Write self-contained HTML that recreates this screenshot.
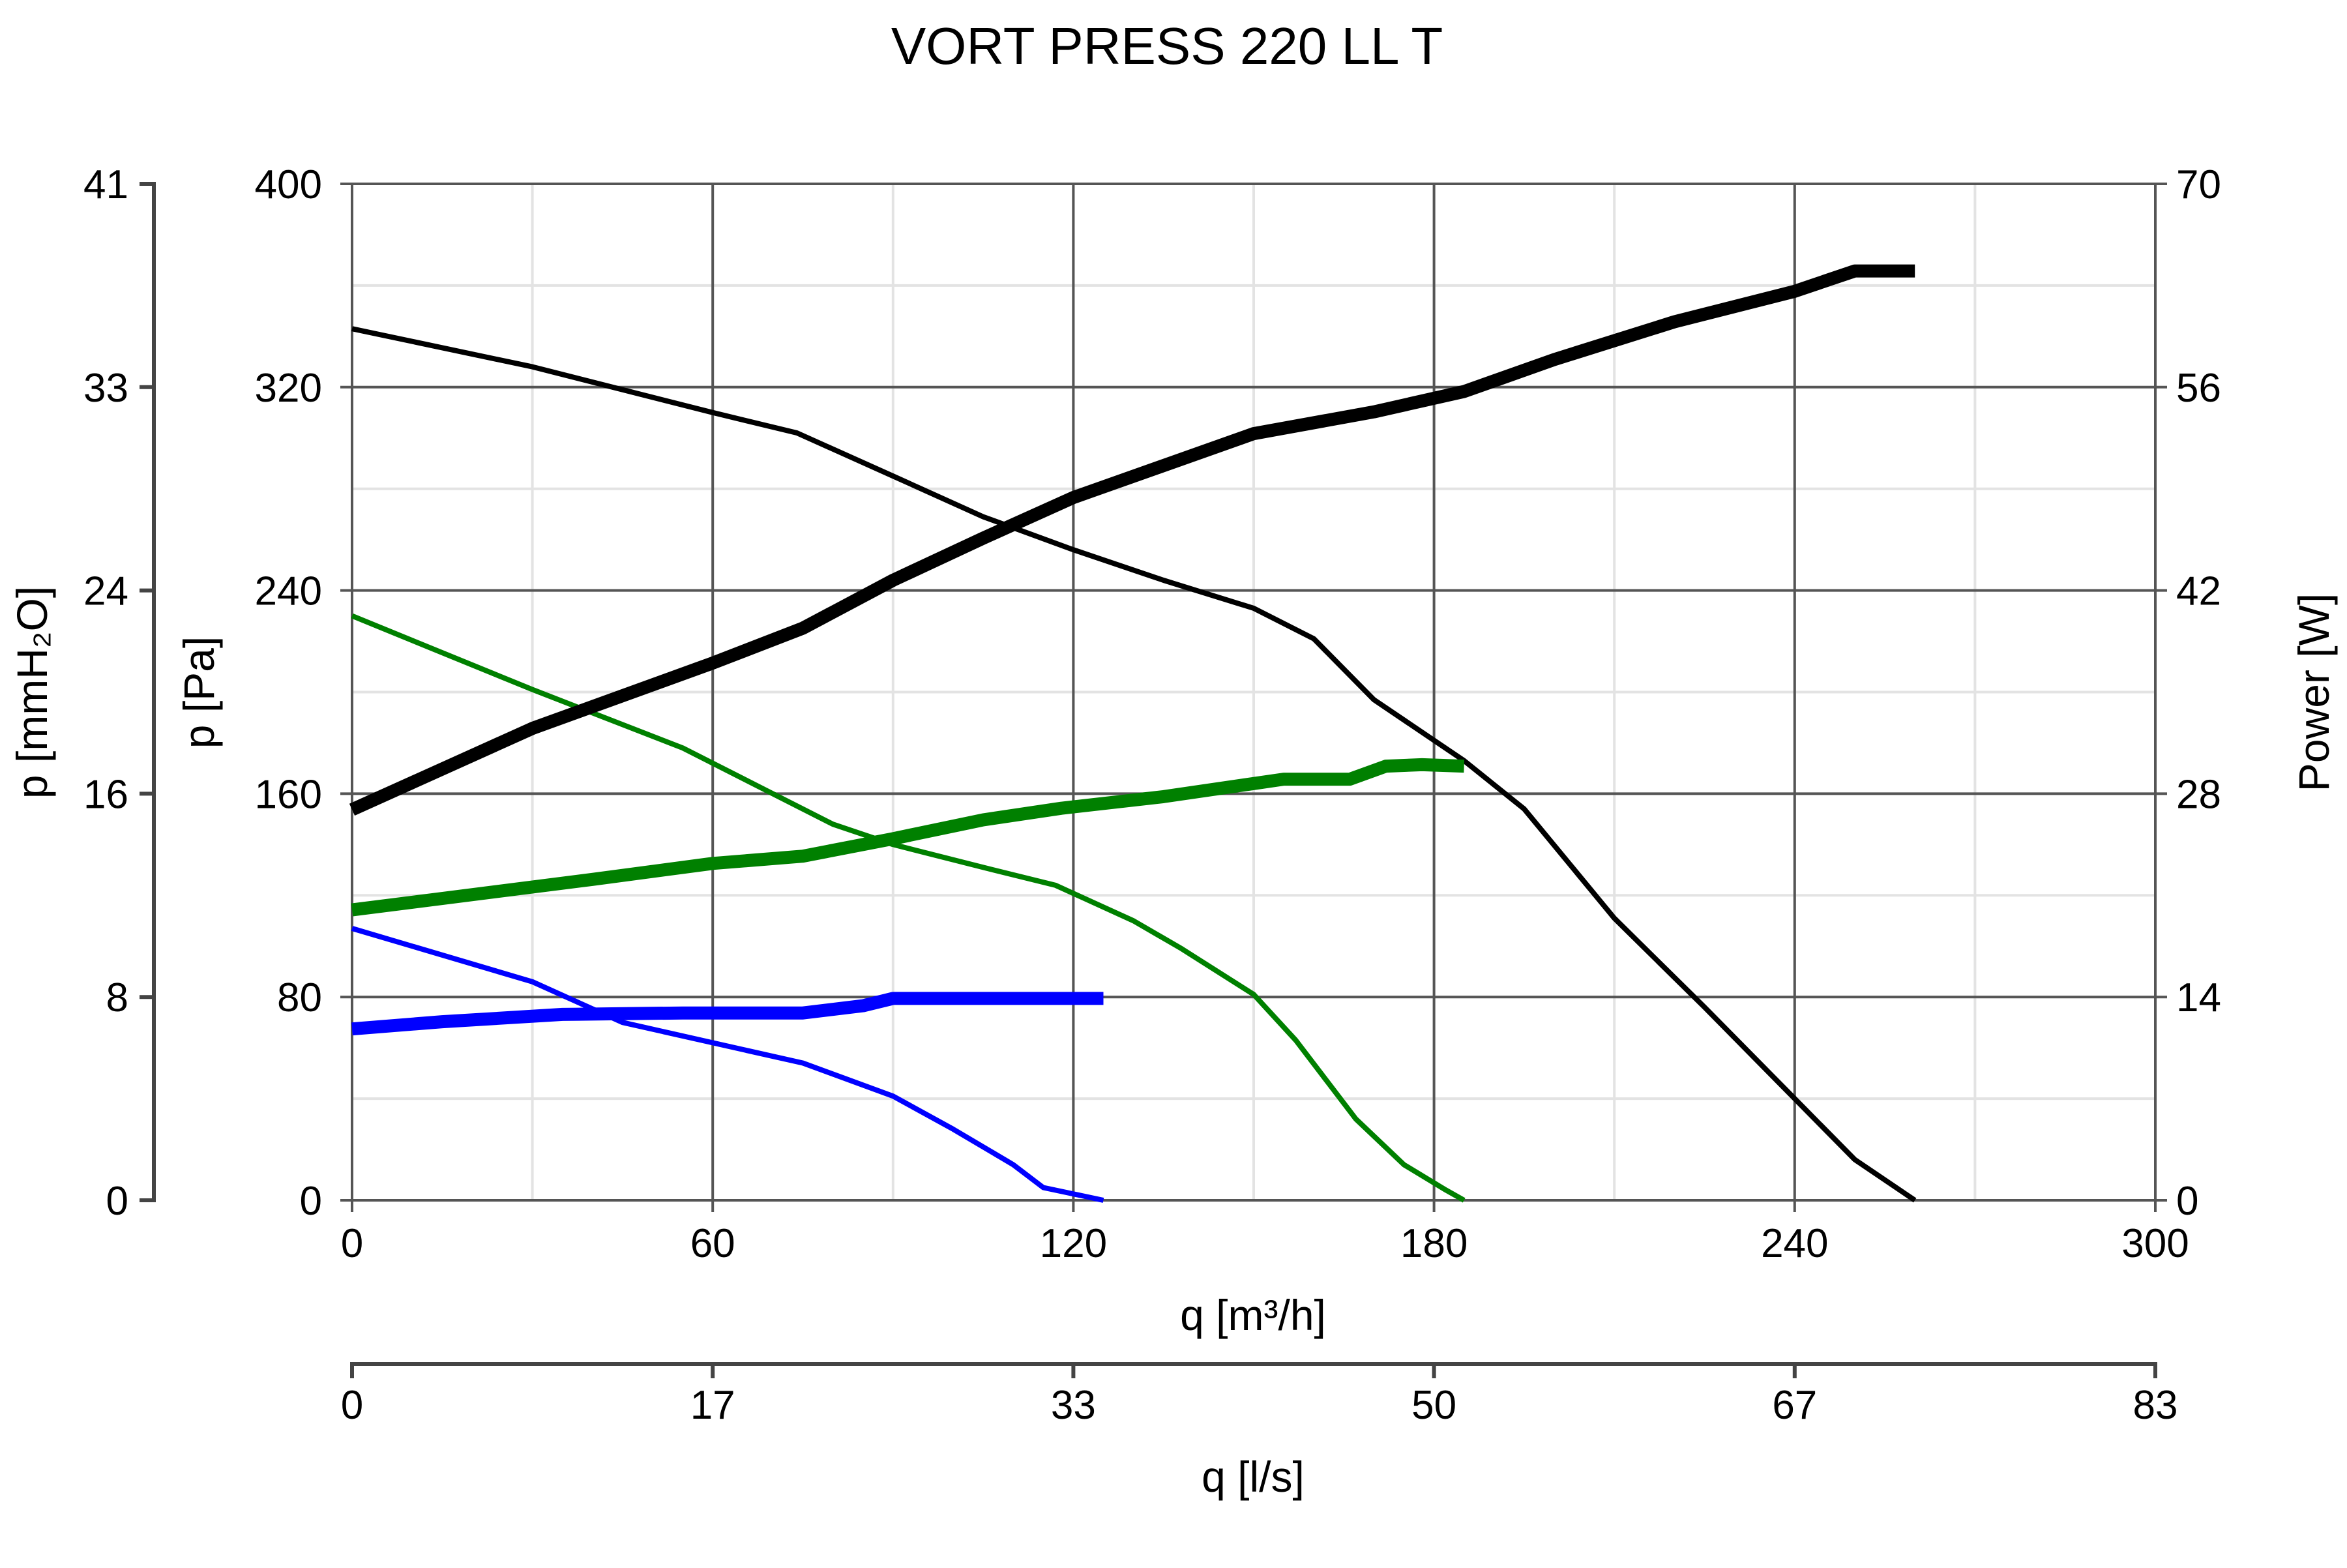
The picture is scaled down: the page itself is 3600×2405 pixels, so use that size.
<!DOCTYPE html>
<html><head><meta charset="utf-8"><style>
html,body{margin:0;padding:0;background:#fff}
svg text{font-family:"Liberation Sans",sans-serif;fill:#000}
</style></head><body>
<svg id="chart" width="3600" height="2400" viewBox="0 0 3600 2400" xmlns="http://www.w3.org/2000/svg">
<text x="1790" y="98" font-size="80" text-anchor="middle">VORT PRESS 220 LL T</text>
<g id="grid"></g><g id="axes"></g><g id="series"></g>
<text transform="translate(328,1062) rotate(-90)" font-size="66" text-anchor="middle">p [Pa]</text>
<text transform="translate(72,1062) rotate(-90)" font-size="66" text-anchor="middle">p [mmH₂O]</text>
<text transform="translate(3572,1062) rotate(-90)" font-size="66" text-anchor="middle">Power [W]</text>
<text x="1922" y="2040" font-size="66" text-anchor="middle">q [m³/h]</text>
<text x="1922" y="2288" font-size="66" text-anchor="middle">q [l/s]</text>
</svg>
<script>
const xTicks=[0,60,120,180,240,300];
const xMinor=[30,90,150,210,270];
const yTicks=[0,80,160,240,320,400];
const yMinor=[40,120,200,280,360];
const mmTicks=["0","8","16","24","33","41"];
const wTicks=["0","14","28","42","56","70"];
const lsTicks=["0","17","33","50","67","83"];
const blackQ=[0,30,60,74,90,105,120,135,150,160,170,185,195,210,225,240,250,260];
const blackP=[343,328,310,302,285,269,256,244,233,221,197,173,154,111,76,40,16,0];
const blackPowQ=[0,30,60,75,90,105,120,150,170,185,200,220,240,250,260];
const blackPow=[26.9,32.5,37,39.4,42.7,45.6,48.4,52.8,54.3,55.7,57.9,60.5,62.6,64,64];
const greenQ=[0,30,55,70,80,90,105,117,130,138,150,157,167,175,182,185];
const greenP=[230,201,178,160,148,140,131,124,110,99,81,63,32,14,4,0];
const greenPowQ=[0,40,60,75,90,105,118,135,150,155,166,172,178,185];
const greenPow=[20,22.1,23.2,23.7,24.9,26.2,27,27.8,28.7,29,29,29.9,30,29.9];
const blueQ=[0,30,45,60,75,90,100,110,115,125];
const blueP=[107,86,70,62,54,41,28,14,5,0];
const bluePowQ=[0,15,35,55,75,85,90,125];
const bluePow=[11.8,12.3,12.8,12.9,12.9,13.4,13.9,13.9];

const L=540,R=3306,T=282,B=1841;
const xs=q=>L+q/300*(R-L);
const yp=p=>B-p/400*(B-T);
const yw=w=>B-w/70*(B-T);
const NS="http://www.w3.org/2000/svg";
function mk(tag,parent,attrs){const e=document.createElementNS(NS,tag);for(const k in attrs)e.setAttribute(k,attrs[k]);document.getElementById(parent).appendChild(e);return e;}
// minor grid
xMinor.forEach(q=>{const e=mk('line','grid',{x1:xs(q),x2:xs(q),y1:T,y2:B,stroke:'#e3e3e3','stroke-width':4});

});
yMinor.forEach(p=>{const e=mk('line','grid',{x1:L,x2:R,y1:yp(p),y2:yp(p),stroke:'#e3e3e3','stroke-width':4});

});
// major grid + x labels
xTicks.forEach((q,i)=>{const e=mk('line','grid',{x1:xs(q),x2:xs(q),y1:T,y2:B+18,stroke:'#555','stroke-width':4});


const t=mk('text','axes',{x:xs(q),y:1928,'font-size':62,'text-anchor':'middle'});t.textContent=q;


const k=mk('line','axes',{x1:xs(q),x2:xs(q),y1:2092,y2:2114,stroke:'#444','stroke-width':6});


const t2=mk('text','axes',{x:xs(q),y:2176,'font-size':62,'text-anchor':'middle'});t2.textContent=lsTicks[i];

});
yTicks.forEach((p,i)=>{const e=mk('line','grid',{x1:L-18,x2:R+18,y1:yp(p),y2:yp(p),stroke:'#555','stroke-width':4});


const t=mk('text','axes',{x:494,y:yp(p)+22,'font-size':62,'text-anchor':'end'});t.textContent=p;


const t2=mk('text','axes',{x:3338,y:yp(p)+22,'font-size':62,'text-anchor':'start'});t2.textContent=wTicks[i];


const t3=mk('text','axes',{x:197,y:yp(p)+22,'font-size':62,'text-anchor':'end'});t3.textContent=mmTicks[i];


const k=mk('line','axes',{x1:214,x2:236,y1:yp(p),y2:yp(p),stroke:'#444','stroke-width':6});

});
const a1=mk('line','axes',{x1:236,x2:236,y1:T-3,y2:B+3,stroke:'#444','stroke-width':6});


const a2=mk('line','axes',{x1:L-3,x2:R+3,y1:2092,y2:2092,stroke:'#444','stroke-width':6});


function line(qa,va,yf,color,w,name){
  const d=qa.map((q,i)=>(i?'L':'M')+xs(q).toFixed(1)+' '+yf(va[i]).toFixed(1)).join(' ');
  const e=mk('path','series',{d:d,fill:'none',stroke:color,'stroke-width':w,'stroke-linejoin':'round'});
  
  
}
line(blackQ,blackP,yp,'#000',8,'pressure-curve-black');
line(greenQ,greenP,yp,'#008000',8,'pressure-curve-green');
line(blueQ,blueP,yp,'#0000ff',8,'pressure-curve-blue');
line(blackPowQ,blackPow,yw,'#000',20,'power-curve-black');
line(greenPowQ,greenPow,yw,'#008000',20,'power-curve-green');
line(bluePowQ,bluePow,yw,'#0000ff',20,'power-curve-blue');
</script>
</body></html>
